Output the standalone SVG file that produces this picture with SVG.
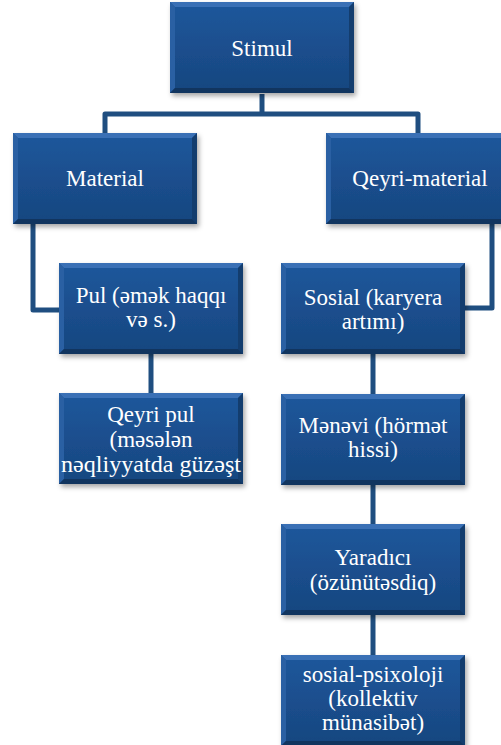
<svg xmlns="http://www.w3.org/2000/svg" xmlns:xlink="http://www.w3.org/1999/xlink" width="501" height="745" viewBox="0 0 501 745">
<style>
text{font-family:'Liberation Serif','DejaVu Serif',serif;font-size:23px;fill:#ffffff;text-anchor:middle}
.c{fill:none;stroke:#1f4e80;stroke-width:5;stroke-linejoin:round}
</style>
<defs>
<linearGradient id="g" x1="0" y1="0" x2="0" y2="1">
<stop offset="0" stop-color="#1e579c"/>
<stop offset="1" stop-color="#17467f"/>
</linearGradient>
<filter id="sh" x="-10%" y="-10%" width="125%" height="130%">
<feDropShadow dx="2" dy="3" stdDeviation="2.5" flood-color="#000" flood-opacity="0.35"/>
</filter>
<g id="box">
<rect x="0" y="0" width="184" height="91" fill="url(#g)" filter="url(#sh)"/>
<polygon points="0,0 184,0 179,5 5,5" fill="#3a70b5"/>
<polygon points="0,0 5,5 5,86 0,91" fill="#2a60a3"/>
<polygon points="184,0 184,91 179,86 179,5" fill="#133d6e"/>
<polygon points="0,91 184,91 179,86 5,86" fill="#11355f"/>
</g>
</defs>
<rect width="501" height="745" fill="#ffffff"/>
<g id="connectors">
<path class="c" d="M262,94 V114"/>
<path class="c" d="M105,133 V114 H418 V133"/>
<path class="c" d="M33,224 V310 H60"/>
<path class="c" d="M492,224 V308 H465"/>
<path class="c" d="M151,352 V393"/>
<path class="c" d="M373,354 V394"/>
<path class="c" d="M373,485 V524"/>
<path class="c" d="M373,615 V655"/>
</g>
<g font-family="Liberation Serif, DejaVu Serif, serif">
<g id="stimul"><use xlink:href="#box" x="170" y="2"/><text x="262" y="56">Stimul</text></g>
<g id="material"><use xlink:href="#box" x="13" y="133"/><text x="105" y="186">Material</text></g>
<g id="qeyri-material"><use xlink:href="#box" x="326" y="133"/><text x="420" y="186">Qeyri-material</text></g>
<g id="pul"><use xlink:href="#box" x="59" y="263"/><text x="151" y="303">Pul (əmək haqqı</text><text x="151" y="327">və s.)</text></g>
<g id="sosial"><use xlink:href="#box" x="281" y="263"/><text x="373" y="305">Sosial (karyera</text><text x="373" y="329">artımı)</text></g>
<g id="qeyri-pul"><use xlink:href="#box" x="59" y="393"/><text x="151" y="422">Qeyri pul</text><text x="151" y="447">(məsələn</text><text x="151" y="472" textLength="180" lengthAdjust="spacingAndGlyphs">nəqliyyatda güzəşt</text></g>
<g id="menevi"><use xlink:href="#box" x="281" y="394"/><text x="373" y="433">Mənəvi (hörmət</text><text x="373" y="457">hissi)</text></g>
<g id="yaradici"><use xlink:href="#box" x="281" y="524"/><text x="373" y="565">Yaradıcı</text><text x="373" y="590">(özünütəsdiq)</text></g>
<g id="sosial-psixoloji"><use xlink:href="#box" x="281" y="655"/><text x="373" y="682">sosial-psixoloji</text><text x="373" y="706">(kollektiv</text><text x="373" y="730">münasibət)</text></g>
</g>
</svg>
